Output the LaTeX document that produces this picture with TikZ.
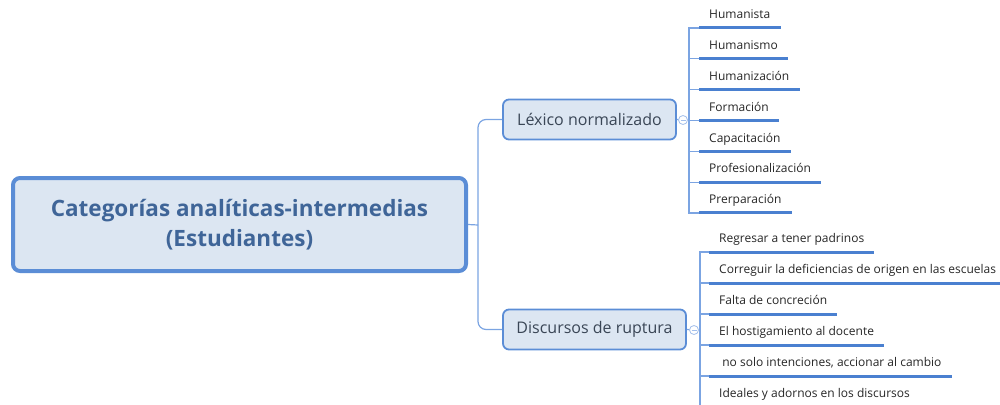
\documentclass[tikz,border=0pt]{standalone}
\usepackage{fontspec}
\setmainfont{Open Sans}
\usetikzlibrary{positioning}
\definecolor{boxfill}{HTML}{DCE6F2}
\definecolor{boxline}{HTML}{5B8DD6}
\definecolor{roottext}{HTML}{3F6598}
\definecolor{maintext}{HTML}{3A4656}
\definecolor{linkline}{HTML}{7BA4E2}
\definecolor{ulinecol}{HTML}{4A80D0}

\tikzset{
  rootbox/.style={draw=boxline, line width=4pt, fill=boxfill, rounded corners=7,
    minimum width=453, minimum height=93, align=center, text=roottext,
    font=\fontsize{22.5}{30}\selectfont\bfseries},
  mainbox/.style={draw=boxline, line width=1.8pt, fill=boxfill, rounded corners=6,
    minimum height=40, text=maintext, font=\fontsize{16}{18}\selectfont},
  link/.style={draw=linkline, line width=1.2pt},
  knob/.style={circle, draw=linkline!70, fill=white, line width=0.8pt, inner sep=0pt,
    minimum size=9,
    path picture={\draw[linkline!70, line width=0.6pt]
      ([xshift=-2.5pt]path picture bounding box.center) --
      ([xshift=2.5pt]path picture bounding box.center);}},
  leaf/.style={anchor=south west, inner xsep=10, inner ysep=6, text height=9,
    text depth=3, text=black!85, font=\fontsize{12}{13}\selectfont},
  uline/.style={draw=ulinecol, line width=3pt}
}

\begin{document}
\begin{tikzpicture}[x=1pt,y=-1pt]
\useasboundingbox (0,0) rectangle (1000,404);

% central topic
\node[rootbox] (root) at (239.5,224.5) {Categorías analíticas-intermedias\\(Estudiantes)};
\coordinate (hub) at (478,225);

% main branches
\node[mainbox, minimum width=173] (lex) at (589.5,119.5) {Léxico normalizado};
\node[mainbox, minimum width=183] (disc) at (594.5,329.5) {Discursos de ruptura};

\draw[link] (root.east) -- (hub);
\draw[link, rounded corners=8] (hub) |- (lex.west);
\draw[link, rounded corners=8] (hub) |- (disc.west);

\node[knob] (lexk) at (683,120) {};
\node[knob] (disck) at (694,330) {};
\coordinate (lexbar) at (689,120);
\coordinate (discbar) at (700,330);
\draw[link] (lex.east) -- (lexk);
\draw[link] (lexk) -- (lexbar);
\draw[link] (disc.east) -- (disck);
\draw[link] (disck) -- (discbar);

% Lexico leaves
\foreach \t [count=\i] in {Humanista,Humanismo,Humanización,Formación,
    Capacitación,Profesionalización,Prerparación} {
  \pgfmathsetmacro\y{28+30.83*(\i-1)}
  \node[leaf] (lx\i) at (699,\y) {\t};
  \draw[link] (lexbar) |- (lx\i.south west);
  \draw[uline] (lx\i.south west) -- (lx\i.south east);
}

% Discursos leaves
\foreach \t [count=\i] in {Regresar a tener padrinos,
    Correguir la deficiencias de origen en las escuelas,
    Falta de concreción,El hostigamiento al docente,
    \ no solo intenciones{,} accionar al cambio,
    Ideales y adornos en los discursos} {
  \pgfmathsetmacro\y{252+31*(\i-1)}
  \node[leaf] (dr\i) at (709,\y) {\t};
  \draw[link] (discbar) |- (dr\i.south west);
  \draw[uline] (dr\i.south west) -- (dr\i.south east);
}
\end{tikzpicture}
\end{document}
